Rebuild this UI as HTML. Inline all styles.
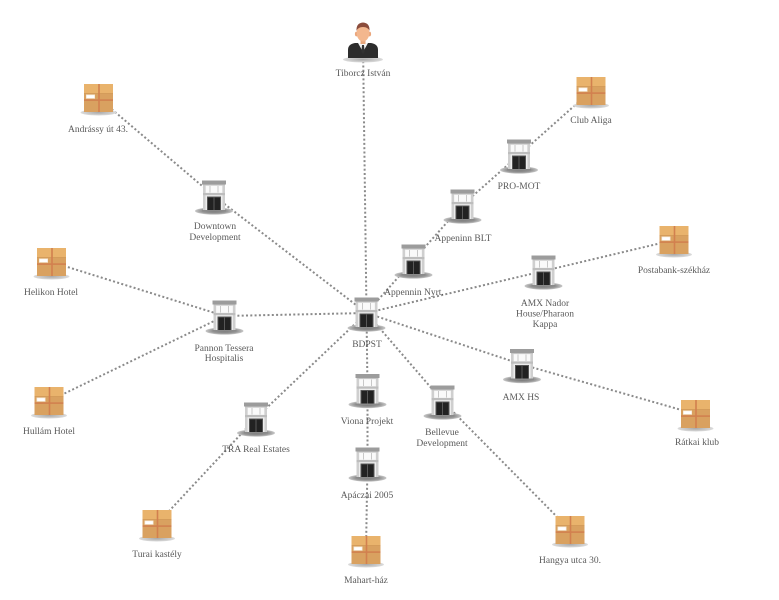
<!DOCTYPE html>
<html>
<head>
<meta charset="utf-8">
<style>
html,body{margin:0;padding:0;background:#fff;}
svg{display:block;}
text{font-family:"Liberation Serif","DejaVu Serif",serif;font-size:9.5px;fill:#5a5a5a;text-anchor:middle;}
</style>
</head>
<body>
<svg width="779" height="600" viewBox="0 0 779 600" xmlns="http://www.w3.org/2000/svg">
<defs>
  <radialGradient id="sh" cx="50%" cy="50%" r="50%">
    <stop offset="0%" stop-color="#6f6f6f"/>
    <stop offset="70%" stop-color="#9a9a9a"/>
    <stop offset="100%" stop-color="#c8c8c8"/>
  </radialGradient>
  <radialGradient id="sh2" cx="50%" cy="50%" r="50%">
    <stop offset="0%" stop-color="#a8a8a8"/>
    <stop offset="100%" stop-color="#dcdcdc"/>
  </radialGradient>
  <g id="bld">
    <ellipse cx="0" cy="15" rx="19" ry="3.6" fill="url(#sh)"/>
    <rect x="-11" y="-12" width="22" height="27" fill="#ededed"/>
    <rect x="-12" y="-15.5" width="24" height="4" fill="#9c9c9c"/>
    <rect x="-11" y="-11.5" width="22" height="1" fill="#c4c4c4"/>
    <rect x="-11" y="-10.5" width="2.5" height="25" fill="#cfcfcf"/>
    <rect x="8.5" y="-10.5" width="2.5" height="25" fill="#cfcfcf"/>
    <rect x="-8" y="-10" width="16" height="6.5" fill="#fafafa"/>
    <rect x="-4.5" y="-10" width="1" height="6.5" fill="#c8c8c8"/>
    <rect x="3.5" y="-10" width="1" height="6.5" fill="#c8c8c8"/>
    <rect x="-11" y="-3" width="22" height="2.2" fill="#bdbdbd"/>
    <rect x="-7" y="0.5" width="14" height="14.5" fill="#555"/>
    <rect x="-6" y="1.5" width="12" height="13.5" fill="#222"/>
    <rect x="-0.4" y="1.5" width="0.8" height="13.5" fill="#666"/>
    <rect x="-12" y="14" width="24" height="1.5" fill="#8a8a8a"/>
  </g>
  <g id="box">
    <ellipse cx="0" cy="14.5" rx="18" ry="3" fill="url(#sh2)"/>
    <rect x="-14.5" y="-14" width="29" height="28" fill="#d9a160"/>
    <rect x="-14.5" y="-14" width="29" height="9" fill="#e9b36c"/>
    <rect x="-14.5" y="-5" width="29" height="0.8" fill="#d39a58"/>
    <rect x="-0.3" y="-14" width="1.6" height="28" fill="#d2804f"/>
    <rect x="-14.5" y="1.3" width="29" height="1.6" fill="#d2804f"/>
    <rect x="-12.5" y="-3.5" width="9" height="4.2" fill="#f4e6d2"/>
    <rect x="-11.8" y="-2.8" width="7.6" height="2.8" fill="#ffffff"/>
  </g>
</defs>

<g stroke="#8a8a8a" stroke-width="2" stroke-dasharray="2 2.3" fill="none">
  <line x1="363" y1="44" x2="366.5" y2="313"/>
  <line x1="98.5" y1="98" x2="214" y2="196"/>
  <line x1="214" y1="196" x2="366.5" y2="313"/>
  <line x1="591" y1="91" x2="519" y2="155"/>
  <line x1="519" y1="155" x2="462.5" y2="205"/>
  <line x1="462.5" y1="205" x2="413.5" y2="260"/>
  <line x1="413.5" y1="260" x2="366.5" y2="313"/>
  <line x1="674" y1="240" x2="543.5" y2="271"/>
  <line x1="543.5" y1="271" x2="366.5" y2="313"/>
  <line x1="51.5" y1="262" x2="224.5" y2="316"/>
  <line x1="49" y1="401" x2="224.5" y2="316"/>
  <line x1="224.5" y1="316" x2="366.5" y2="313"/>
  <line x1="695.5" y1="414" x2="522" y2="364.5"/>
  <line x1="522" y1="364.5" x2="366.5" y2="313"/>
  <line x1="157" y1="524" x2="256" y2="418"/>
  <line x1="256" y1="418" x2="366.5" y2="313"/>
  <line x1="366" y1="550" x2="367.5" y2="463"/>
  <line x1="367.5" y1="463" x2="367.5" y2="389.5"/>
  <line x1="367.5" y1="389.5" x2="366.5" y2="313"/>
  <line x1="570" y1="530" x2="442.5" y2="401"/>
  <line x1="442.5" y1="401" x2="366.5" y2="313"/>
</g>

<!-- person -->
<g>
  <ellipse cx="363" cy="59.5" rx="20" ry="3" fill="url(#sh2)"/>
  <path d="M348 58 L348 50 Q348 44 355 43 L371 43 Q378 44 378 50 L378 58 Z" fill="#2d2d2d"/>
  <path d="M358 43 L363 52 L368 43 Z" fill="#f4f4f4"/>
  <path d="M362 45 L364 45 L364.6 52 L363 54 L361.4 52 Z" fill="#333"/>
  <rect x="360.5" y="38" width="5" height="6" fill="#e8a77d"/>
  <ellipse cx="356.5" cy="34" rx="1.6" ry="2.4" fill="#eaa67c"/>
  <ellipse cx="369.5" cy="34" rx="1.6" ry="2.4" fill="#eaa67c"/>
  <ellipse cx="363" cy="33" rx="6.3" ry="8.5" fill="#f3b78e"/>
  <path d="M356.5 31 Q356 23 363 22.5 Q370 23 369.5 31 Q368 27 363 27 Q358 27 356.5 31 Z" fill="#8b4c3b"/>
</g>

<!-- buildings -->
<use href="#bld" x="214" y="196"/>
<use href="#bld" x="519" y="155"/>
<use href="#bld" x="462.5" y="205"/>
<use href="#bld" x="413.5" y="260"/>
<use href="#bld" x="543.5" y="271"/>
<use href="#bld" x="224.5" y="316"/>
<use href="#bld" x="366.5" y="313"/>
<use href="#bld" x="522" y="364.5"/>
<use href="#bld" x="256" y="418"/>
<use href="#bld" x="367.5" y="389.5"/>
<use href="#bld" x="442.5" y="401"/>
<use href="#bld" x="367.5" y="463"/>

<!-- boxes -->
<use href="#box" x="98.5" y="98"/>
<use href="#box" x="591" y="91"/>
<use href="#box" x="674" y="240"/>
<use href="#box" x="51.5" y="262"/>
<use href="#box" x="49" y="401"/>
<use href="#box" x="695.5" y="414"/>
<use href="#box" x="157" y="524"/>
<use href="#box" x="366" y="550"/>
<use href="#box" x="570" y="530"/>

<!-- labels -->
<text x="363" y="76">Tiborcz István</text>
<text x="98" y="132">Andrássy út 43.</text>
<text x="215" y="229">Downtown</text>
<text x="215" y="240">Development</text>
<text x="591" y="123">Club Aliga</text>
<text x="519" y="189">PRO-MOT</text>
<text x="463" y="241">Appeninn BLT</text>
<text x="414" y="295">Appennin Nyrt.</text>
<text x="674" y="273">Postabank-székház</text>
<text x="545" y="306">AMX Nador</text>
<text x="545" y="316.5">House/Pharaon</text>
<text x="545" y="327">Kappa</text>
<text x="51" y="295">Helikon Hotel</text>
<text x="224" y="351">Pannon Tessera</text>
<text x="224" y="361">Hospitalis</text>
<text x="367" y="347">BDPST</text>
<text x="521" y="400">AMX HS</text>
<text x="697" y="445">Rátkai klub</text>
<text x="49" y="434">Hullám Hotel</text>
<text x="256" y="452">TRA Real Estates</text>
<text x="367" y="424">Viona Projekt</text>
<text x="442" y="435">Bellevue</text>
<text x="442" y="446">Development</text>
<text x="367" y="498">Apáczai 2005</text>
<text x="157" y="557">Turai kastély</text>
<text x="366" y="583">Mahart-ház</text>
<text x="570" y="563">Hangya utca 30.</text>
</svg>
</body>
</html>
